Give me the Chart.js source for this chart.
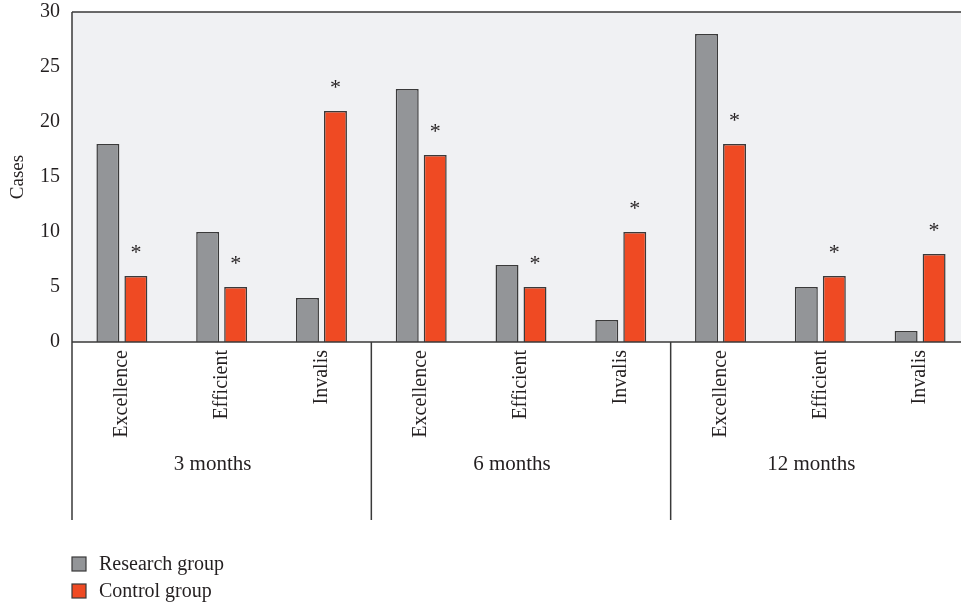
<!DOCTYPE html>
<html>
<head>
<meta charset="utf-8">
<script src="https://cdn.jsdelivr.net/npm/chart.js@4/dist/chart.umd.min.js"></script>
<style>
  html, body { margin: 0; padding: 0; background: #fff; }
  #wrap { width: 961px; height: 606px; overflow: hidden; }
</style>
</head>
<body>
<!-- the plot runs a little past the right edge in the original, so the canvas is wider and clipped -->
<div id="wrap"><canvas id="chart" width="970" height="606"></canvas></div>
<script>
// data
const categories = ['Excellence', 'Efficient', 'Invalis', 'Excellence', 'Efficient', 'Invalis', 'Excellence', 'Efficient', 'Invalis'];
const groups = ['3 months', '6 months', '12 months'];
const research = [18, 10, 4, 23, 7, 2, 28, 5, 1];
const control = [6, 5, 21, 17, 5, 10, 18, 6, 8];
const significant = [true, true, true, true, true, true, true, true, true]; // * over control bars
const yTicks = [0, 5, 10, 15, 20, 25, 30];

const serif = '"Liberation Serif", "DejaVu Serif", serif';
const ink = '#231f20';
const lineCol = '#3a3a3a';

// background, frame lines, group labels, asterisks and legend
const extras = {
  id: 'extras',
  beforeDraw(chart) {
    const { ctx, chartArea: a } = chart;
    ctx.save();
    ctx.fillStyle = '#f0f1f3';
    ctx.fillRect(a.left, a.top, a.right - a.left, a.bottom - a.top);
    ctx.restore();
  },
  afterDraw(chart) {
    const { ctx, chartArea: a } = chart;
    const x = chart.scales.x;
    const bottom = 520;
    ctx.save();
    ctx.strokeStyle = lineCol;
    ctx.lineWidth = 1.5;
    ctx.beginPath();
    ctx.moveTo(a.left, a.top); ctx.lineTo(a.right, a.top);
    ctx.moveTo(a.left, a.bottom); ctx.lineTo(a.right, a.bottom);
    ctx.moveTo(a.left, a.top); ctx.lineTo(a.left, bottom);
    for (let g = 1; g < groups.length; g++) {
      const sx = x.getPixelForValue(g * 3 - 0.5);
      ctx.moveTo(sx, a.bottom); ctx.lineTo(sx, bottom);
    }
    ctx.stroke();

    // group names
    ctx.fillStyle = ink;
    ctx.font = '21px ' + serif;
    ctx.textAlign = 'center';
    ctx.textBaseline = 'middle';
    groups.forEach((g, i) => {
      ctx.fillText(g, x.getPixelForValue(i * 3 + 1) - 9, 464);
    });

    // asterisks above the control bars
    const meta = chart.getDatasetMeta(1);
    ctx.font = '22px ' + serif;
    meta.data.forEach((bar, i) => {
      if (significant[i]) ctx.fillText('*', bar.x, bar.y - 27.5 + 5);
    });

    // legend
    ctx.textAlign = 'left';
    ctx.font = '20px ' + serif;
    chart.data.datasets.forEach((ds, i) => {
      const y = 564 + i * 27;
      ctx.fillStyle = ds.backgroundColor;
      ctx.fillRect(72, y - 7, 14, 14);
      ctx.strokeStyle = lineCol;
      ctx.lineWidth = 1.2;
      ctx.strokeRect(72, y - 7, 14, 14);
      ctx.fillStyle = ink;
      ctx.fillText(ds.label, 99, y + 1);
    });
    ctx.restore();
  }
};

new Chart(document.getElementById('chart'), {
  type: 'bar',
  data: {
    labels: categories,
    datasets: [
      {
        label: 'Research group',
        data: research,
        backgroundColor: '#939598',
        borderColor: lineCol,
        borderWidth: 1.5,
        categoryPercentage: 0.561,
        barPercentage: 0.82
      },
      {
        label: 'Control group',
        data: control,
        backgroundColor: '#ef4a23',
        borderColor: lineCol,
        borderWidth: 1.5,
        categoryPercentage: 0.561,
        barPercentage: 0.82
      }
    ]
  },
  options: {
    responsive: false,
    animation: false,
    layout: { padding: 0 },
    plugins: {
      legend: { display: false },
      tooltip: { enabled: false }
    },
    scales: {
      x: {
        grid: { display: false, drawTicks: false },
        border: { display: false },
        ticks: {
          autoSkip: false,
          minRotation: 90,
          maxRotation: 90,
          padding: 8,
          color: ink,
          font: { family: serif, size: 20 }
        },
        afterFit(scale) {
          scale.height = 264;
          scale.paddingTop = 0;
          scale.paddingBottom = 0;
        }
      },
      y: {
        min: 0,
        max: 30,
        afterBuildTicks(scale) { scale.ticks = yTicks.map(v => ({ value: v })); },
        grid: { display: false, drawTicks: false },
        border: { display: false },
        ticks: {
          padding: 12,
          color: ink,
          font: { family: serif, size: 20 }
        },
        title: {
          display: true,
          text: 'Cases',
          color: ink,
          padding: { top: 7, bottom: 0 },
          font: { family: serif, size: 19 }
        },
        afterFit(scale) {
          scale.width = 72;
          scale.paddingTop = 12;
          scale.paddingBottom = 0;
        }
      }
    }
  },
  plugins: [extras]
});
</script>
</body>
</html>
